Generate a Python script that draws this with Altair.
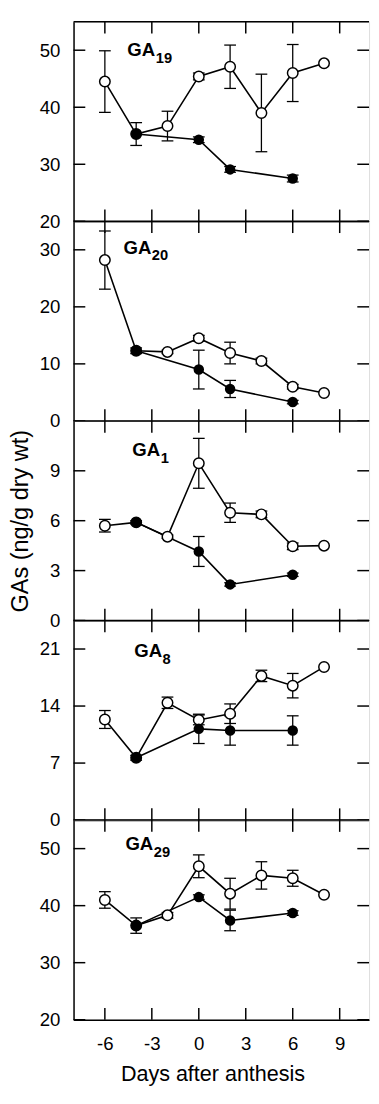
import altair as alt
import pandas as pd

# ---------------- data ----------------
days_open = [-6, -4, -2, 0, 2, 4, 6, 8]
days_filled = [-4, 0, 2, 6]
x_ticks = [-6, -3, 0, 3, 6, 9]

panel_main = ["GA", "GA", "GA", "GA", "GA"]
panel_sub = ["19", "20", "1", "8", "29"]

ga19_open = [44.5, 35.3, 36.7, 45.4, 47.1, 39.0, 46.0, 47.7]
ga19_open_err = [5.4, 0, 2.6, 0.6, 3.8, 6.8, 5.0, 0]
ga19_filled = [35.3, 34.3, 29.1, 27.5]
ga19_filled_err = [2.0, 0.5, 0.5, 0.6]

ga20_open = [28.2, 12.3, 12.1, 14.5, 11.9, 10.5, 6.0, 4.9]
ga20_open_err = [5.1, 0, 0.3, 0.5, 1.9, 0.5, 0.4, 0]
ga20_filled = [12.3, 9.0, 5.6, 3.3]
ga20_filled_err = [0.5, 3.4, 1.5, 0.3]

ga1_open = [5.70, 5.90, 5.04, 9.45, 6.48, 6.38, 4.46, 4.50]
ga1_open_err = [0.38, 0, 0.1, 1.5, 0.58, 0.2, 0.2, 0]
ga1_filled = [5.90, 4.15, 2.17, 2.75]
ga1_filled_err = [0.1, 0.9, 0.1, 0.1]

ga8_open = [12.35, 7.65, 14.4, 12.3, 13.06, 17.7, 16.5, 18.8]
ga8_open_err = [1.1, 0, 0.7, 0.6, 1.2, 0.7, 1.5, 0]
ga8_filled = [7.65, 11.2, 11.0, 11.0]
ga8_filled_err = [0.3, 1.8, 1.8, 1.8]

ga29_open = [41.0, 36.5, 38.3, 46.9, 42.1, 45.3, 44.8, 41.9]
ga29_open_err = [1.45, 0, 0.5, 2.0, 2.7, 2.4, 1.4, 0]
ga29_filled = [36.5, 41.5, 37.4, 38.7]
ga29_filled_err = [1.35, 0.4, 1.8, 0.4]

y_domains = [[20, 55], [0, 35], [0, 12], [0, 24.5], [20, 55]]
y_ticks = [[20, 30, 40, 50], [0, 10, 20, 30], [0, 3, 6, 9], [0, 7, 14, 21], [20, 30, 40, 50]]

series = [
    (ga19_open, ga19_open_err, ga19_filled, ga19_filled_err),
    (ga20_open, ga20_open_err, ga20_filled, ga20_filled_err),
    (ga1_open, ga1_open_err, ga1_filled, ga1_filled_err),
    (ga8_open, ga8_open_err, ga8_filled, ga8_filled_err),
    (ga29_open, ga29_open_err, ga29_filled, ga29_filled_err),
]

# ---------------- layout / style ----------------
W = 302
H = 204
TICK = 12
FONT = "Liberation Sans"
label_pos = [(55, 35), (51, 33), (60, 36), (62, 37), (53, 31)]
x_domain = [-8, 10.875]


def make_panel(i):
    o, oe, f, fe = series[i]
    last = i == 4
    xscale = alt.Scale(domain=x_domain, nice=False, zero=False)
    yscale = alt.Scale(domain=y_domains[i], nice=False, zero=False)
    if last:
        xaxis = alt.Axis(values=x_ticks, ticks=False, tickSize=0, labelPadding=15,
                         labelFontSize=19, labelFont=FONT, labelColor="black",
                         labelExpr="'' + datum.value",
                         domainColor="black", domainWidth=1.5, grid=False,
                         titleFontSize=22, titleFont=FONT, titleFontWeight="normal",
                         titleColor="black", titlePadding=11, titleX=142,
                         labelFlush=False)
        xtitle = "Days after anthesis"
    else:
        xaxis = alt.Axis(labels=False, ticks=False, tickSize=0, domainColor="black",
                         domainWidth=1.5, grid=False)
        xtitle = None
    yaxis = alt.Axis(values=y_ticks[i], ticks=False, tickSize=0, labelPadding=14,
                     labelFontSize=19, labelFont=FONT, labelColor="black",
                     domainColor="black", domainWidth=1.5, grid=False,
                     minExtent=35, maxExtent=35,
                     titleFontSize=24, titleFont=FONT, titleFontWeight="normal",
                     titleColor="black", titlePadding=7)
    ytitle = "GAs (ng/g dry wt)" if i == 2 else None

    def X(field="day"):
        return alt.X(f"{field}:Q", scale=xscale, axis=xaxis, title=xtitle)

    def Y(field="value"):
        return alt.Y(f"{field}:Q", scale=yscale, axis=yaxis, title=ytitle)

    df_open = pd.DataFrame({"day": days_open, "value": o, "err": oe})
    df_filled = pd.DataFrame({"day": days_filled, "value": f, "err": fe})
    df_err = pd.concat([df_open, df_filled])
    df_err = df_err[df_err["err"] > 0].copy()
    df_err["lo"] = df_err["value"] - df_err["err"]
    df_err["hi"] = df_err["value"] + df_err["err"]

    df_yt = pd.DataFrame({"value": y_ticks[i]})
    df_xt = pd.DataFrame({"day": x_ticks})
    one = pd.DataFrame({"k": [0]})

    rule = dict(color="black", strokeWidth=1.5)
    top_line = alt.Chart(one).mark_rule(**rule).encode(
        x=alt.value(0), x2=alt.value(W), y=alt.value(0))
    left_t = alt.Chart(df_yt).mark_rule(**rule).encode(
        y=Y(), x=alt.value(0), x2=alt.value(TICK))
    right_t = alt.Chart(df_yt).mark_rule(**rule).encode(
        y=Y(), x=alt.value(W - TICK), x2=alt.value(W))
    top_t = alt.Chart(df_xt).mark_rule(**rule).encode(
        x=X(), y=alt.value(0), y2=alt.value(TICK))
    bot_t = alt.Chart(df_xt).mark_rule(**rule).encode(
        x=X(), y=alt.value(H - TICK), y2=alt.value(H))

    err_bar = alt.Chart(df_err).mark_rule(color="black", strokeWidth=1.3).encode(
        x=X(), y=Y("lo"), y2="hi:Q")
    cap_lo = alt.Chart(df_err).mark_tick(color="black", orient="horizontal", size=12,
                                         thickness=1.3, opacity=1).encode(x=X(), y=Y("lo"))
    cap_hi = alt.Chart(df_err).mark_tick(color="black", orient="horizontal", size=12,
                                         thickness=1.3, opacity=1).encode(x=X(), y=Y("hi"))

    line_open = alt.Chart(df_open).mark_line(color="black", strokeWidth=1.6).encode(x=X(), y=Y())
    line_filled = alt.Chart(df_filled).mark_line(color="black", strokeWidth=1.6).encode(x=X(), y=Y())
    pts_open = alt.Chart(df_open).mark_point(shape="circle", filled=True, fill="white",
                                             stroke="black", strokeWidth=1.5, size=115,
                                             opacity=1).encode(x=X(), y=Y())
    pts_filled = alt.Chart(df_filled).mark_point(shape="circle", filled=True, color="black",
                                                 size=115, opacity=1).encode(x=X(), y=Y())

    lx, ly = label_pos[i]
    df_lab = pd.DataFrame({"main": [panel_main[i]], "sub": [panel_sub[i]]})
    lab_main = alt.Chart(df_lab).mark_text(font=FONT, fontSize=19, fontWeight="bold",
                                           align="left", baseline="alphabetic",
                                           color="black").encode(
        text="main:N", x=alt.value(lx), y=alt.value(ly))
    lab_sub = alt.Chart(df_lab).mark_text(font=FONT, fontSize=15, fontWeight="bold",
                                          align="left", baseline="alphabetic",
                                          color="black").encode(
        text="sub:N", x=alt.value(lx + 29), y=alt.value(ly + 7))

    return alt.layer(top_line, left_t, right_t, top_t, bot_t, err_bar, cap_lo, cap_hi,
                     line_open, line_filled, pts_open, pts_filled, lab_main, lab_sub
                     ).properties(width=W, height=H)


chart = alt.vconcat(*[make_panel(i) for i in range(5)], spacing=0, bounds="flush").properties(
    padding={"left": 0, "top": 0, "right": 0, "bottom": 0}
).configure_view(stroke=None).configure(background="white")

chart.save("out.html", embed_options={"renderer": "svg", "actions": False})
